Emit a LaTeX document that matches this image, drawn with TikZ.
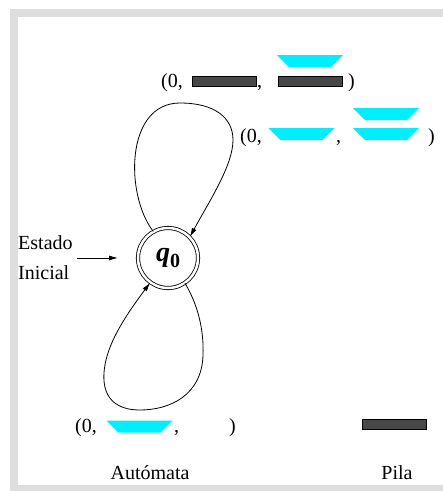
\documentclass[tikz,border=0pt]{standalone}
\usepackage{fontspec}
\setmainfont{Liberation Serif}
\usetikzlibrary{arrows.meta,positioning}
\definecolor{celeste}{RGB}{0,238,255}

\begin{document}
\begin{tikzpicture}[x=1pt, y=-1pt,
    est/.style={circle, draw, double, double distance=2.5pt, line width=0.8pt,
                minimum size=60pt, inner sep=0pt},
    flecha/.style={line width=0.8pt, -{Latex[length=9pt,width=5pt]}},
    txt/.style={anchor=base west, inner sep=0pt, font=\rmfamily\fontsize{20}{30}\selectfont},
    barra/.style={draw=black, fill=black!72, line width=0.6pt,
                  minimum width=64pt, minimum height=10pt, inner sep=0pt},
    tope/.pic={\fill[celeste] (-33,-6) -- (33,-6) -- (21,6) -- (-21,6) -- cycle;}
  ]
    \useasboundingbox (0,0) rectangle (443,491);
    % marco
    \fill[black!13] (10,9) rectangle (443,491);
    \fill[white] (18,17) rectangle (443,485);

    % automata
    \node[est] (q0) at (168,258)
      {\fontsize{28}{28}\selectfont\bfseries\itshape q\raisebox{-6pt}{\fontsize{20}{20}\selectfont\upshape 0}};
    \node[txt, anchor=west, align=left] (ini) at (18,258) {Estado\\Inicial};
    \coordinate (fin) at (118,258);
    \draw[flecha] ([xshift=4pt]ini.east) -- (fin);

    \draw[flecha] (q0.119) .. controls (125,195) and (125,103) .. (180,103)
      .. controls (215,103) and (233,118) .. (233,140)
      .. controls (233,165) and (210,200) .. (q0.44);
    \draw[flecha] (q0.-56) .. controls (198,305) and (204,330) .. (203,355)
      .. controls (202,395) and (170,410) .. (140,410)
      .. controls (105,410) and (100,385) .. (106,360)
      .. controls (112,335) and (130,310) .. (q0.-126);

    % transiciones
    \node[txt] (t1) at (161,87) {(0,};
    \node[barra] (b1) at (224.5,81.5) {};
    \node[txt] (c1) at (257,87) {,};
    \node[barra] (b2) at (310.5,81.5) {};
    \pic at (310,61) {tope};
    \node[txt] (p1) at (348,87) {)};

    \node[txt] (t2) at (240,142) {(0,};
    \pic at (301.5,134) {tope};
    \node[txt] (c2) at (336,142) {,};
    \pic at (386,134) {tope};
    \pic at (386,114) {tope};
    \node[txt] (p2) at (428,142) {)};

    \node[txt] (t3) at (75,432) {(0,};
    \pic at (139.5,426.5) {tope};
    \node[txt] (c3) at (174,432) {,};
    \node[txt] (p3) at (229,432) {)};

    % pila
    \node[barra] (b3) at (394.5,424) {};

    \node[txt, anchor=base] (aut) at (150,479) {Aut\'omata};
    \node[txt, anchor=base] (pila) at (397,479) {Pila};
\end{tikzpicture}
\end{document}
